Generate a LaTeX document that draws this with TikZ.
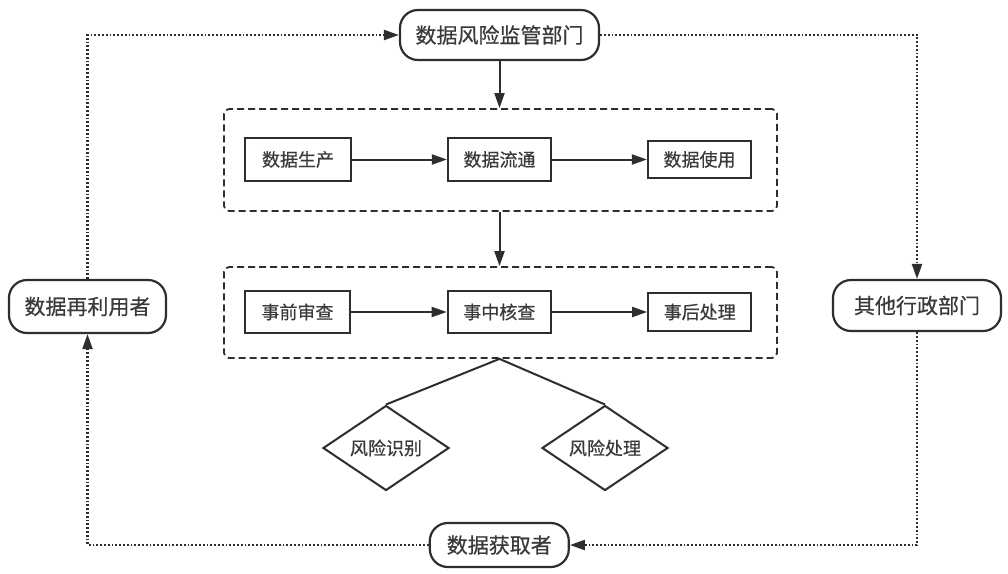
\documentclass[tikz,border=0pt]{standalone}
\usepackage{fontspec}
\setmainfont{Noto Sans CJK SC}[FakeBold=0.6]
\usetikzlibrary{arrows.meta,shapes.geometric}
\definecolor{ink}{HTML}{2E2E2E}
\definecolor{txt}{HTML}{3A3A3A}
\begin{document}
\begin{tikzpicture}[x=1pt,y=-1pt,
  every node/.style={inner sep=0pt,text=txt},
  pill/.style={draw=ink,line width=2.2pt,rounded corners=18pt,font=\fontsize{21}{24}\selectfont},
  stepbox/.style={draw=ink,line width=2.2pt,font=\fontsize{18}{21}\selectfont},
  group/.style={draw=ink,line width=1.8pt,dash pattern=on 7pt off 4pt,rounded corners=5pt},
  dia/.style={draw=ink,line width=2pt,diamond,aspect=1.5,minimum width=126pt,minimum height=85pt,font=\fontsize{18}{21}\selectfont},
  solidarrow/.style={draw=ink,line width=2pt,-{Triangle[length=15pt,width=10pt]}},
  dotarrow/.style={draw=ink,line width=2.2pt,dash pattern=on 1.8pt off 2pt,-{Triangle[length=15pt,width=10pt]}},
  plainline/.style={draw=ink,line width=2pt}]
\useasboundingbox (0,0) rectangle (1008,573);
\fill[white] (0,0) rectangle (1008,573);

\node[pill,minimum width=199pt,minimum height=50pt] (top) at (499.5,35) {数据风险监管部门};
\node[pill,minimum width=157pt,minimum height=53pt] (reuse) at (87.5,306.5) {数据再利用者};
\node[pill,minimum width=168pt,minimum height=51pt] (other) at (917,305.5) {其他行政部门};
\node[pill,minimum width=139pt,minimum height=44pt] (getter) at (499.3,545) {数据获取者};

\node[group,minimum width=553pt,minimum height=102pt] (g1) at (500.5,160) {};
\node[group,minimum width=553pt,minimum height=91pt] (g2) at (500.5,312.5) {};

\node[stepbox,minimum width=106pt,minimum height=43pt] (p1) at (298,159.5) {数据生产};
\node[stepbox,minimum width=103pt,minimum height=43pt] (p2) at (499.5,159.5) {数据流通};
\node[stepbox,minimum width=103pt,minimum height=37pt] (p3) at (699.5,159.5) {数据使用};

\node[stepbox,minimum width=105pt,minimum height=42pt] (q1) at (297.5,312) {事前审查};
\node[stepbox,minimum width=103pt,minimum height=42pt] (q2) at (499.3,312) {事中核查};
\node[stepbox,minimum width=103pt,minimum height=38pt] (q3) at (699.7,312) {事后处理};

\node[dia] (d1) at (386,448) {风险识别};
\node[dia] (d2) at (605,448) {风险处理};

\draw[solidarrow] (p1) -- (p2);
\draw[solidarrow] (p2) -- (p3);
\draw[solidarrow] (q1) -- (q2);
\draw[solidarrow] (q2) -- (q3);
\draw[solidarrow] (top.south) -- (top.south |- g1.north);
\draw[solidarrow] (top.south |- g1.south) -- (top.south |- g2.north);

\coordinate (gb) at (top.south |- g2.south);
\draw[plainline] (d1.north) -- (gb) -- (d2.north);

\draw[dotarrow] (reuse.north) |- (top.west);
\draw[dotarrow] (top.east) -| (other.north);
\draw[dotarrow] (other.south) |- (getter.east);
\draw[dotarrow] (getter.west) -| (reuse.south);
\end{tikzpicture}
\end{document}
